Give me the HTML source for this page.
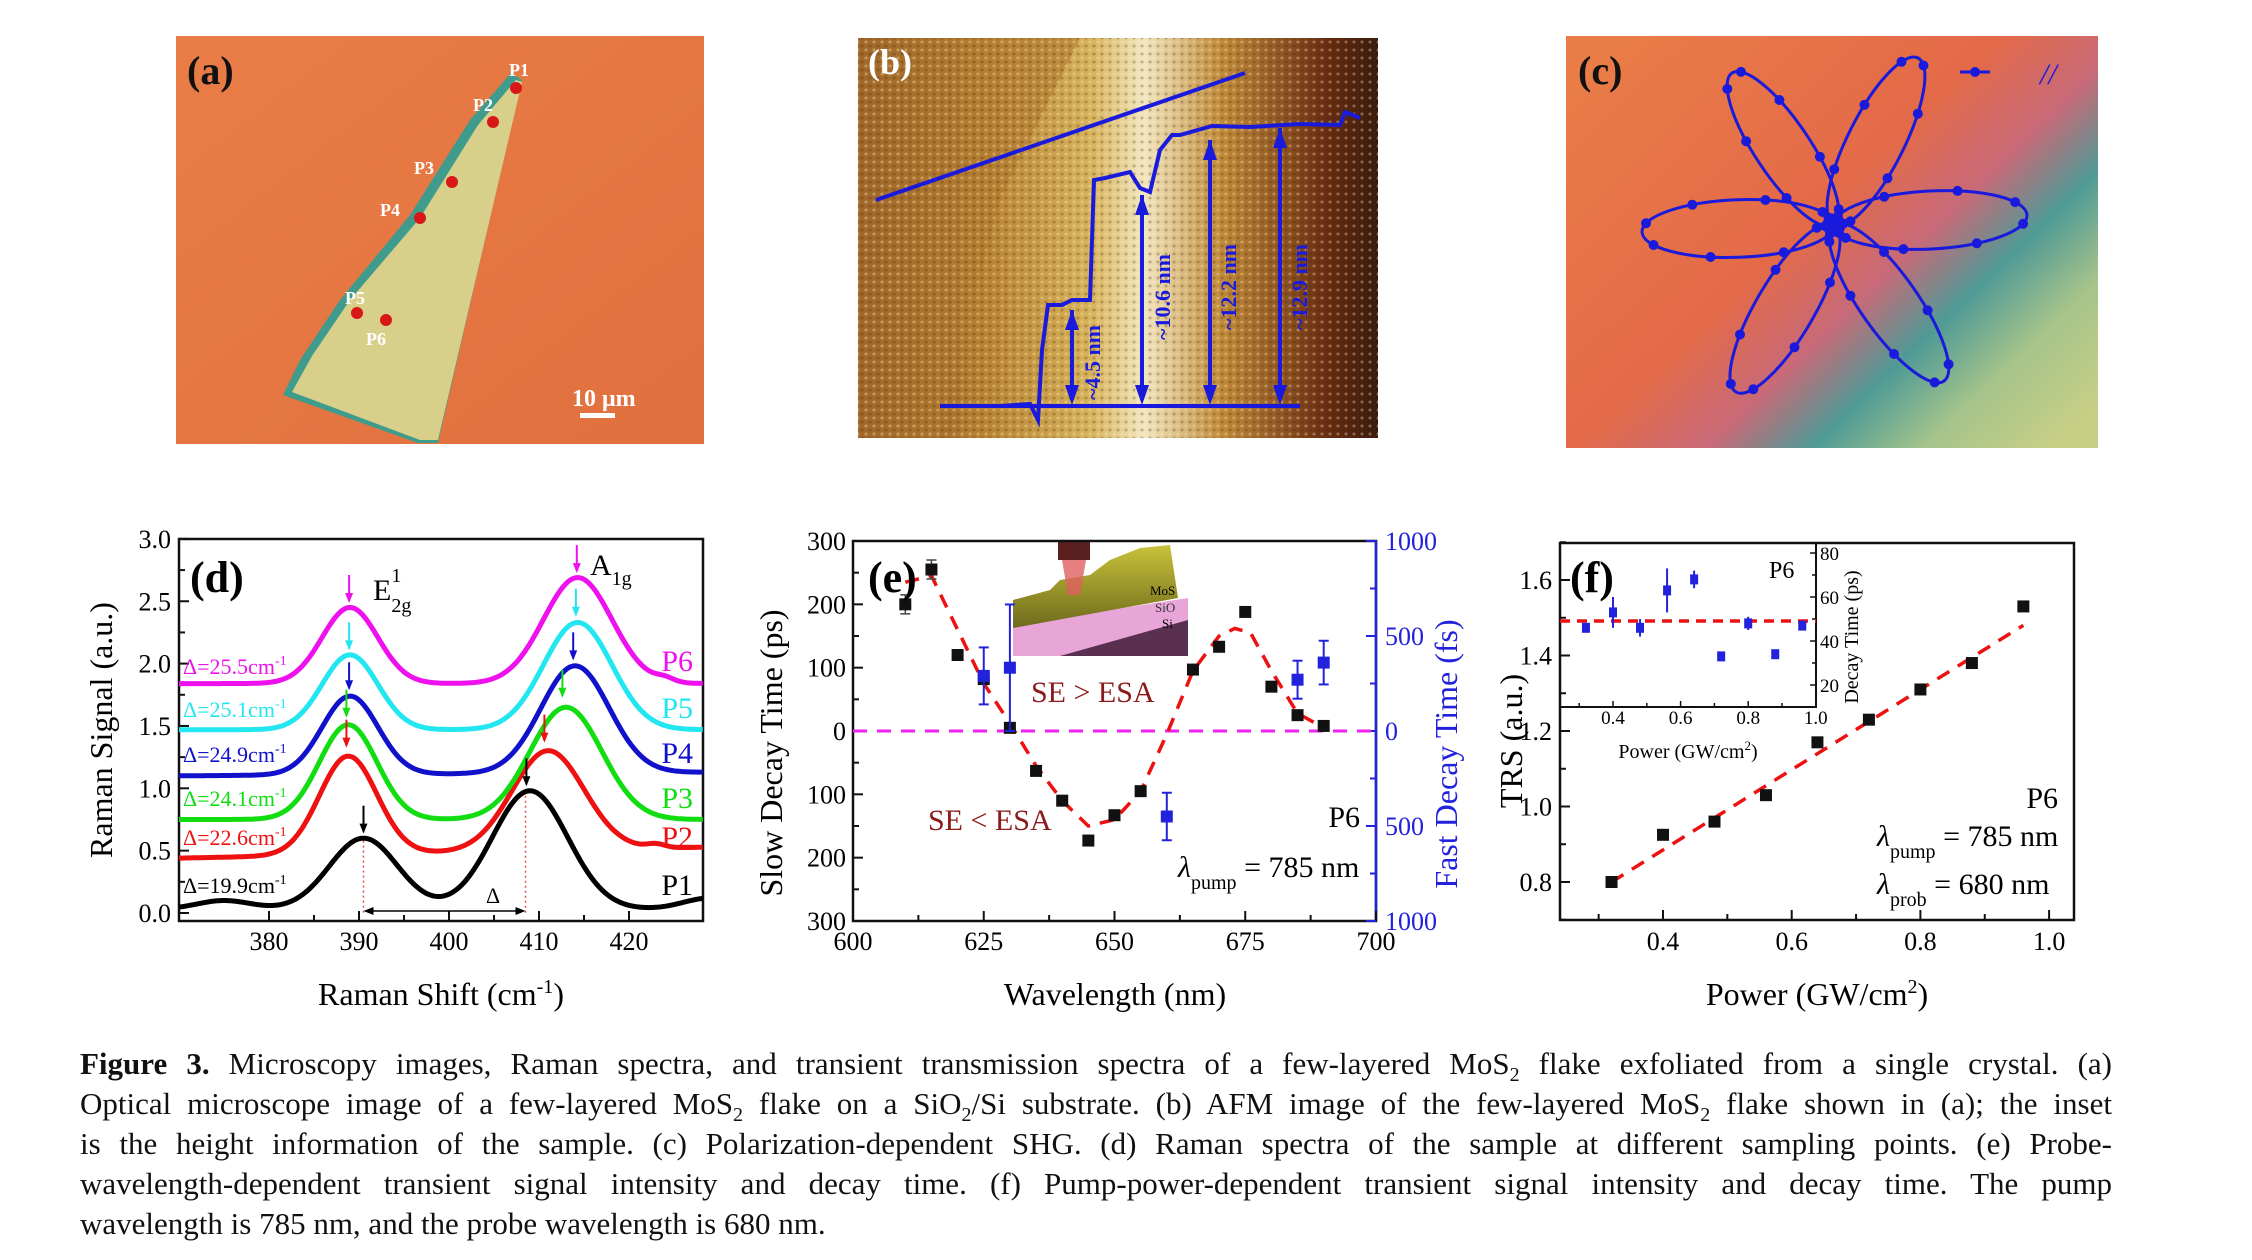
<!DOCTYPE html>
<html><head><meta charset="utf-8">
<style>
html,body{margin:0;padding:0;background:#fff;}
body{width:2252px;height:1260px;position:relative;overflow:hidden;}
svg{position:absolute;left:0;top:0;}
text{font-family:"Liberation Serif",serif;}
#cap{position:absolute;left:80px;top:1044px;width:2032px;font-family:"Liberation Serif",serif;font-size:31px;line-height:40px;color:#111;}
#cap div{text-align:justify;text-align-last:justify;white-space:nowrap;height:40px;}
#cap div.l{text-align-last:left;}
sub{font-size:20px;line-height:0;}
</style></head><body>
<svg id="s" width="2252" height="1260" xmlns="http://www.w3.org/2000/svg">
<defs>
<linearGradient id="ga" x1="0" y1="0" x2="1" y2="1"><stop offset="0" stop-color="#ea7d47"/><stop offset="1" stop-color="#e0703e"/></linearGradient>
<linearGradient id="gb" x1="0" y1="0" x2="1" y2="0"><stop offset="0" stop-color="#8a4a22"/><stop offset=".25" stop-color="#b98433"/><stop offset=".45" stop-color="#d8b45e"/><stop offset=".55" stop-color="#f2e6c0"/><stop offset=".7" stop-color="#c08a3a"/><stop offset=".9" stop-color="#6a2d12"/><stop offset="1" stop-color="#3a1a0c"/></linearGradient>
<linearGradient id="gc" x1="0" y1="0.1" x2="1" y2="0.9"><stop offset="0" stop-color="#ea7d47"/><stop offset=".45" stop-color="#e36a48"/><stop offset=".6" stop-color="#c86a78"/><stop offset=".72" stop-color="#4f9a96"/><stop offset=".85" stop-color="#a6c48a"/><stop offset="1" stop-color="#c8cf86"/></linearGradient>
<linearGradient id="gi" x1="0" y1="0" x2="0" y2="1"><stop offset="0" stop-color="#c9c23a"/><stop offset="1" stop-color="#6e6a1c"/></linearGradient>
<pattern id="tex" width="8" height="8" patternUnits="userSpaceOnUse"><rect width="8" height="8" fill="none"/><circle cx="2" cy="2" r="1.5" fill="#fff3c0" opacity=".35"/><circle cx="6" cy="6" r="1.5" fill="#4a2a08" opacity=".3"/></pattern>
</defs>
<!-- (a) -->
<rect x="176" y="36" width="528" height="408" fill="url(#ga)"/>
<polygon points="511,73 522,80 438,443 418,443 283,395 300,360 340,300 410,215 470,120" fill="#3f9c8c"/>
<polygon points="516,80 522,82 438,440 420,440 292,392 312,356 350,300 420,218 478,125" fill="#d7cf8a"/>
<text x="187" y="84" font-size="40" font-weight="bold" fill="#111">(a)</text>
<g fill="#d81818"><circle cx="516" cy="88" r="6"/><circle cx="493" cy="122" r="6"/><circle cx="452" cy="182" r="6"/><circle cx="420" cy="218" r="6"/><circle cx="357" cy="313" r="6"/><circle cx="386" cy="320" r="6"/></g>
<g fill="#fff" font-size="18" font-weight="bold"><text x="509" y="76">P1</text><text x="473" y="111">P2</text><text x="414" y="174">P3</text><text x="380" y="216">P4</text><text x="345" y="304">P5</text><text x="366" y="345">P6</text></g>
<text x="572" y="406" font-size="24" font-weight="bold" fill="#fff">10 μm</text>
<rect x="580" y="413" width="35" height="5" fill="#fff"/>
<!-- (b) -->
<rect x="858" y="38" width="520" height="400" fill="url(#gb)"/>
<polygon points="858,38 1080,38 1000,200 960,350 940,438 858,438" fill="#b07a30" opacity=".6"/>
<rect x="858" y="38" width="520" height="400" fill="url(#tex)"/>
<text x="868" y="74" font-size="36" font-weight="bold" fill="#fff">(b)</text>
<g stroke="#1a1adc" stroke-width="4" fill="none">
<line x1="876" y1="200" x2="1245" y2="73"/>
<polyline points="940,406 1000,406 1030,404 1038,420 1042,350 1048,305 1062,305 1072,300 1090,300 1094,180 1105,178 1130,172 1140,188 1150,192 1160,150 1172,135 1180,135 1212,126 1250,127 1300,124 1340,125 1345,112 1360,118"/>
<line x1="942" y1="406" x2="1300" y2="406"/>
</g>
<g stroke="#1a1adc" stroke-width="4"><line x1="1072" y1="310" x2="1072" y2="400"/><line x1="1142" y1="195" x2="1142" y2="400"/><line x1="1210" y1="140" x2="1210" y2="400"/><line x1="1280" y1="128" x2="1280" y2="400"/></g>
<g fill="#1a1adc"><polygon points="1065,330 1079,330 1072,310"/><polygon points="1065,385 1079,385 1072,405"/><polygon points="1135,215 1149,215 1142,195"/><polygon points="1135,385 1149,385 1142,405"/><polygon points="1203,160 1217,160 1210,140"/><polygon points="1203,385 1217,385 1210,405"/><polygon points="1273,148 1287,148 1280,128"/><polygon points="1273,385 1287,385 1280,405"/></g>
<g fill="#1a1adc" font-family="Liberation Sans" font-size="22" font-weight="bold"><text transform="translate(1100,400) rotate(-90)">~4.5 nm</text><text transform="translate(1170,340) rotate(-90)">~10.6 nm</text><text transform="translate(1236,330) rotate(-90)">~12.2 nm</text><text transform="translate(1307,330) rotate(-90)">~12.9 nm</text></g>
<!-- (c) -->
<rect x="1566" y="36" width="532" height="412" fill="url(#gc)"/>
<text x="1578" y="84" font-size="40" font-weight="bold" fill="#111">(c)</text>
<g id="flower" stroke="#1a1adc" stroke-width="3" fill="none"></g>
<line x1="1960" y1="72" x2="1990" y2="72" stroke="#1a1adc" stroke-width="3"/><circle cx="1975" cy="72" r="5" fill="#1a1adc"/>
<text x="2040" y="84" font-size="30" font-style="italic" fill="#1a1adc">//</text>
<g id="plots"></g>
</svg>
<div id="cap">
<div><b>Figure 3.</b> Microscopy images, Raman spectra, and transient transmission spectra of a few-layered MoS<sub>2</sub> flake exfoliated from a single crystal. (a)</div>
<div>Optical microscope image of a few-layered MoS<sub>2</sub> flake on a SiO<sub>2</sub>/Si substrate. (b) AFM image of the few-layered MoS<sub>2</sub> flake shown in (a); the inset</div>
<div>is the height information of the sample. (c) Polarization-dependent SHG. (d) Raman spectra of the sample at different sampling points. (e) Probe-</div>
<div>wavelength-dependent transient signal intensity and decay time. (f) Pump-power-dependent transient signal intensity and decay time. The pump</div>
<div class="l">wavelength is 785 nm, and the probe wavelength is 680 nm.</div>
</div>
<script>
var h="";
function T(x,y,s,sz,o){o=o||{};return '<text x="'+x+'" y="'+y+'" font-size="'+sz+'"'+(o.a?' text-anchor="'+o.a+'"':'')+(o.f?' fill="'+o.f+'"':'')+(o.b?' font-weight="bold"':'')+(o.t?' transform="'+o.t+'"':'')+(o.i?' font-style="italic"':'')+'>'+s+'</text>';}
(function(){var cx=1834,cy=225,tips=[[1732,73],[1918,58],[2027,215],[1642,232],[1736,392],[1944,381]],f="";
tips.forEach(function(t){var dx=t[0]-cx,dy=t[1]-cy,L=Math.hypot(dx,dy),ang=Math.atan2(dy,dx)*180/Math.PI;
f+='<ellipse cx="'+(cx+dx/2)+'" cy="'+(cy+dy/2)+'" rx="'+(L/2)+'" ry="'+(L*0.15)+'" transform="rotate('+ang+' '+(cx+dx/2)+' '+(cy+dy/2)+')"/>';
for(var k=0;k<8;k++){var th=k/8*2*Math.PI+0.3;var ex=L/2*Math.cos(th),ey=L*0.15*Math.sin(th);var a=ang*Math.PI/180;
f+='<circle cx="'+(cx+dx/2+ex*Math.cos(a)-ey*Math.sin(a)).toFixed(1)+'" cy="'+(cy+dy/2+ex*Math.sin(a)+ey*Math.cos(a)).toFixed(1)+'" r="5" fill="#1a1adc" stroke="none"/>';}});
f+='<circle cx="'+cx+'" cy="'+cy+'" r="10" fill="#1a1adc"/>';
document.getElementById("flower").innerHTML=f;})();
function box(x0,y0,x1,y1){return '<rect x="'+x0+'" y="'+y0+'" width="'+(x1-x0)+'" height="'+(y1-y0)+'" fill="none" stroke="#111" stroke-width="2.5"/>';}
var dx0=179,dx1=703,dy0=539,dy1=921;
function DX(v){return 269+(v-380)*9;} function DY(v){return 913-v*124.7;}
h+=box(dx0,dy0,dx1,dy1);
for(var v=380;v<=420;v+=5){var big=v%10==0;h+='<line x1="'+DX(v)+'" y1="'+dy1+'" x2="'+DX(v)+'" y2="'+(dy1-(big?10:6))+'" stroke="#111" stroke-width="2"/>';if(big)h+=T(DX(v),950,v,26,{a:"middle"});}
for(var v=0;v<=3.001;v+=0.25){var big=Math.abs(v*2-Math.round(v*2))<1e-6;h+='<line x1="'+dx0+'" y1="'+DY(v)+'" x2="'+(dx0+(big?10:6))+'" y2="'+DY(v)+'" stroke="#111" stroke-width="2"/>';if(big)h+=T(171,DY(v)+9,v.toFixed(1),26,{a:"end"});}
function G(x,m,s){return Math.exp(-(x-m)*(x-m)/(2*s*s));}
var spec=[
["#000",function(x){return 0.03+0.07*G(x,375,3)+0.57*G(x,390.5,3.8)+0.95*G(x,409,4.2)+0.09*G(x,429,3);}],
["#ee1111",function(x){return 0.44+0.0015*(x-370)+0.79*G(x,388.8,3.2)+0.8*G(x,411,4)+0.03*G(x,423,1);}],
["#11dd11",function(x){return 0.75+0.76*G(x,388.8,3.2)+0.9*G(x,413,4);}],
["#1111cc",function(x){return 1.1+0.0005*(x-370)+0.63*G(x,389,3.1)+0.86*G(x,414,3.8);}],
["#22e6f0",function(x){return 1.47+0.6*G(x,389,3.1)+0.86*G(x,414.3,3.8);}],
["#ee11ee",function(x){return 1.84+0.61*G(x,389,3.1)+0.85*G(x,414.3,3.8)+0.03*G(x,424,1);}]];
h+='<line x1="'+DX(390.5)+'" y1="'+DY(0.58)+'" x2="'+DX(390.5)+'" y2="'+DY(-0.02)+'" stroke="#e05050" stroke-dasharray="2,3" stroke-width="1.5"/>';
h+='<line x1="'+DX(408.5)+'" y1="'+DY(0.98)+'" x2="'+DX(408.5)+'" y2="'+DY(-0.02)+'" stroke="#e05050" stroke-dasharray="2,3" stroke-width="1.5"/>';
spec.forEach(function(s){var p="";for(var x=370;x<=428.2;x+=0.2){p+=(p?"L":"M")+DX(x).toFixed(1)+","+DY(s[1](x)).toFixed(1);}h+='<path d="'+p+'" fill="none" stroke="'+s[0]+'" stroke-width="5"/>';});
var arr=[[390.5,0.62,"#000"],[408.6,1.0,"#000"],[388.6,1.31,"#ee1111"],[410.6,1.35,"#ee1111"],[388.6,1.55,"#11dd11"],[412.6,1.71,"#11dd11"],[388.9,1.77,"#1111cc"],[413.8,2.01,"#1111cc"],[388.9,2.09,"#22e6f0"],[414.1,2.36,"#22e6f0"],[388.9,2.47,"#ee11ee"],[414.2,2.71,"#ee11ee"]];
arr.forEach(function(a){var x=DX(a[0]),y=DY(a[1]);h+='<line x1="'+x+'" y1="'+(y-30)+'" x2="'+x+'" y2="'+(y-4)+'" stroke="'+a[2]+'" stroke-width="2"/><polygon points="'+(x-4)+','+(y-12)+' '+(x+4)+','+(y-12)+' '+x+','+(y-2)+'" fill="'+a[2]+'"/>';});
h+='<line x1="'+(DX(390.5)+4)+'" y1="911" x2="'+(DX(408.5)-4)+'" y2="911" stroke="#000" stroke-width="1.5"/><polygon points="'+DX(390.5)+',911 '+(DX(390.5)+10)+',907 '+(DX(390.5)+10)+',915" fill="#000"/><polygon points="'+DX(408.5)+',911 '+(DX(408.5)-10)+',907 '+(DX(408.5)-10)+',915" fill="#000"/>';
h+=T(486,903,"Δ",22,{});
var dl=[["25.5","#ee11ee"],["25.1","#22e6f0"],["24.9","#1111cc"],["24.1","#11dd11"],["22.6","#ee1111"],["19.9","#000"]];
var ys=[674,717,762,806,845,893];
dl.forEach(function(d,i){h+='<text x="183" y="'+ys[i]+'" font-size="22" fill="'+d[1]+'">Δ='+d[0]+'cm<tspan dy="-9" font-size="14">-1</tspan></text>';});
var pl=[["P6","#ee11ee"],["P5","#22e6f0"],["P4","#1111cc"],["P3","#11dd11"],["P2","#ee1111"],["P1","#000"]];
var pys=[671,718,763,808,847,895];
pl.forEach(function(d,i){h+=T(693,pys[i],d[0],30,{a:"end",f:d[1]});});
h+=T(190,592,"(d)",44,{b:1});
h+='<text x="373" y="600" font-size="30">E<tspan dy="12" font-size="20">2g</tspan><tspan dx="-20" dy="-30" font-size="20">1</tspan></text>';
h+='<text x="590" y="575" font-size="30">A<tspan dy="10" font-size="20">1g</tspan></text>';
h+='<text x="0" y="0" font-size="32" text-anchor="middle" transform="translate(112,730) rotate(-90)">Raman Signal (a.u.)</text>';
h+='<text x="441" y="1005" font-size="32" text-anchor="middle">Raman Shift (cm<tspan dy="-12" font-size="20">-1</tspan><tspan dy="12">)</tspan></text>';
var ex0=853,ex1=1376,ey0=541,ey1=921;
function EX(v){return ex0+(v-600)*5.23;} function EY(v){return 731-v*0.6333;} function EF(v){return 731-v*0.19;}
h+='<rect x="1013" y="542" width="175" height="114" fill="#fff"/><polygon points="1013,625 1188,598 1188,656 1013,656" fill="#e8a5d8"/><polygon points="1060,656 1188,620 1188,656" fill="#5a3050"/>';
h+='<polygon points="1013,600 1050,590 1060,580 1090,575 1110,560 1140,548 1170,545 1178,598 1013,628" fill="url(#gi)"/>';
h+='<rect x="1058" y="542" width="32" height="18" fill="#5a2020"/><polygon points="1062,560 1086,560 1080,595 1068,595" fill="#e06060" opacity=".8"/>';
h+=T(1150,595,"MoS",13,{})+T(1155,612,"SiO",13,{f:"#333"})+T(1162,628,"Si",13,{});
h+=box(ex0,ey0,ex1,ey1);
h+='<line x1="'+ex1+'" y1="'+ey0+'" x2="'+ex1+'" y2="'+ey1+'" stroke="#2222dd" stroke-width="2.5"/>';
for(var v=600;v<=700;v+=12.5){var big=(v%25==0);h+='<line x1="'+EX(v)+'" y1="'+ey1+'" x2="'+EX(v)+'" y2="'+(ey1-(big?10:6))+'" stroke="#111" stroke-width="2"/>';if(big)h+=T(EX(v),950,v,26,{a:"middle"});}
for(var v=-300;v<=300;v+=50){var big=(v%100==0);h+='<line x1="'+ex0+'" y1="'+EY(v)+'" x2="'+(ex0+(big?10:6))+'" y2="'+EY(v)+'" stroke="#111" stroke-width="2"/>';if(big)h+=T(846,EY(v)+9,Math.abs(v),26,{a:"end"});}
for(var v=-1000;v<=1000;v+=250){var big=(v%500==0);h+='<line x1="'+ex1+'" y1="'+EF(v)+'" x2="'+(ex1-(big?10:6))+'" y2="'+EF(v)+'" stroke="#2222dd" stroke-width="2"/>';if(big)h+=T(1385,EF(v)+9,Math.abs(v),26,{f:"#2222dd"});}
h+='<line x1="'+ex0+'" y1="731" x2="'+ex1+'" y2="731" stroke="#ee22ee" stroke-width="3" stroke-dasharray="14,10"/>';
var rc=[[610,235],[615,245],[620,160],[625,75],[630,12],[635,-55],[640,-110],[645,-150],[650,-140],[655,-95],[660,-5],[665,95],[670,150],[673,162],[676,155],[680,95],[685,28],[690,5]];
var p="";rc.forEach(function(c){p+=(p?"L":"M")+EX(c[0]).toFixed(1)+","+EY(c[1]).toFixed(1);});
h+='<path d="'+p+'" fill="none" stroke="#ee1111" stroke-width="3.5" stroke-dasharray="14,10"/>';
var bk=[[610,200,15],[615,255,15],[620,120],[625,82],[630,5],[635,-63],[640,-110],[645,-173,8],[650,-133],[655,-95],[665,97],[670,133],[675,188],[680,70],[685,25],[690,8]];
bk.forEach(function(b){var x=EX(b[0]),y=EY(b[1]);if(b[2]){h+='<line x1="'+x+'" y1="'+EY(b[1]+b[2])+'" x2="'+x+'" y2="'+EY(b[1]-b[2])+'" stroke="#444" stroke-width="1.5"/><line x1="'+(x-5)+'" y1="'+EY(b[1]+b[2])+'" x2="'+(x+5)+'" y2="'+EY(b[1]+b[2])+'" stroke="#444" stroke-width="1.5"/><line x1="'+(x-5)+'" y1="'+EY(b[1]-b[2])+'" x2="'+(x+5)+'" y2="'+EY(b[1]-b[2])+'" stroke="#444" stroke-width="1.5"/>';}h+='<rect x="'+(x-6)+'" y="'+(y-6)+'" width="12" height="12" fill="#111"/>';});
var bl=[[625,290,150],[630,333,333],[660,-450,125],[685,270,100],[690,360,115]];
bl.forEach(function(b){var x=EX(b[0]),y=EF(b[1]),t=EF(b[1]+b[2]),u=EF(b[1]-b[2]);h+='<line x1="'+x+'" y1="'+t+'" x2="'+x+'" y2="'+u+'" stroke="#2222dd" stroke-width="2"/><line x1="'+(x-5)+'" y1="'+t+'" x2="'+(x+5)+'" y2="'+t+'" stroke="#2222dd" stroke-width="2"/><line x1="'+(x-5)+'" y1="'+u+'" x2="'+(x+5)+'" y2="'+u+'" stroke="#2222dd" stroke-width="2"/><rect x="'+(x-6)+'" y="'+(y-6)+'" width="12" height="12" fill="#2222dd"/>';});
h+=T(1031,702,"SE &gt; ESA",30,{f:"#8b1a1a"})+T(928,830,"SE &lt; ESA",30,{f:"#8b1a1a"});
h+=T(1360,827,"P6",30,{a:"end"});
h+='<text x="1178" y="877" font-size="30"><tspan font-style="italic">λ</tspan><tspan dy="12" font-size="20">pump</tspan><tspan dy="-12"> = 785 nm</tspan></text>';
h+=T(868,592,"(e)",44,{b:1});
h+='<text font-size="32" text-anchor="middle" transform="translate(782,753) rotate(-90)">Slow Decay Time (ps)</text>';
h+='<text font-size="32" text-anchor="middle" fill="#2222dd" transform="translate(1457,754) rotate(-90)">Fast Decay Time (fs)</text>';
h+=T(1115,1005,"Wavelength (nm)",32,{a:"middle"});
var fx0=1560,fx1=2074,fy0=543,fy1=920;
function FX(v){return 1663+(v-0.4)*643.5;} function FY(v){return 882-(v-0.8)*377.5;}
h+=box(fx0,fy0,fx1,fy1);
for(var v=0.3;v<=1.001;v+=0.1){var big=Math.abs(v*5-Math.round(v*5))<1e-6;h+='<line x1="'+FX(v)+'" y1="'+fy1+'" x2="'+FX(v)+'" y2="'+(fy1-(big?10:6))+'" stroke="#111" stroke-width="2"/>';if(big)h+=T(FX(v),950,v.toFixed(1),26,{a:"middle"});}
for(var v=0.7;v<=1.701;v+=0.1){var big=Math.abs(v*5-Math.round(v*5))<1e-6;h+='<line x1="'+fx0+'" y1="'+FY(v)+'" x2="'+(fx0+(big?10:6))+'" y2="'+FY(v)+'" stroke="#111" stroke-width="2"/>';if(big)h+=T(1552,FY(v)+9,v.toFixed(1),26,{a:"end"});}
h+='<line x1="'+FX(0.32)+'" y1="'+FY(0.80)+'" x2="'+FX(0.96)+'" y2="'+FY(1.48)+'" stroke="#ee1111" stroke-width="3.5" stroke-dasharray="14,10"/>';
[[0.32,0.80],[0.40,0.925],[0.48,0.96],[0.56,1.03],[0.64,1.17],[0.72,1.23],[0.80,1.31],[0.88,1.38],[0.96,1.53]].forEach(function(d){h+='<rect x="'+(FX(d[0])-6)+'" y="'+(FY(d[1])-6)+'" width="12" height="12" fill="#111"/>';});
var ix1=1816,iy1=707;function IX(v){return 1613+(v-0.4)*338;} function IY(v){return 553+(80-v)*2.2;}
h+='<polyline points="'+fx0+','+iy1+' '+ix1+','+iy1+' '+ix1+','+fy0+'" fill="none" stroke="#111" stroke-width="2"/>';
for(var v=0.3;v<=1.001;v+=0.1){var big=Math.abs(v*5-Math.round(v*5))<1e-6;h+='<line x1="'+IX(v)+'" y1="'+iy1+'" x2="'+IX(v)+'" y2="'+(iy1-(big?6:4))+'" stroke="#111" stroke-width="1.5"/>';if(big)h+=T(IX(v),724,v.toFixed(1),19,{a:"middle"});}
for(var v=20;v<=80;v+=10){var big=v%20==0;h+='<line x1="'+ix1+'" y1="'+IY(v)+'" x2="'+(ix1-(big?6:4))+'" y2="'+IY(v)+'" stroke="#111" stroke-width="1.5"/>';if(big)h+=T(1820,IY(v)+7,v,19,{});}
h+='<line x1="'+fx0+'" y1="621" x2="'+ix1+'" y2="621" stroke="#ee1111" stroke-width="3.5" stroke-dasharray="10,7"/>';
[[0.32,46,0],[0.40,53,7],[0.48,46,4],[0.56,63,10],[0.64,68,4],[0.72,33,0],[0.80,48,3],[0.88,34,0],[0.96,47,0]].forEach(function(d){var x=IX(d[0]),y=IY(d[1]);if(d[2])h+='<line x1="'+x+'" y1="'+IY(d[1]+d[2])+'" x2="'+x+'" y2="'+IY(d[1]-d[2])+'" stroke="#2222dd" stroke-width="2"/>';h+='<rect x="'+(x-4)+'" y="'+(y-5)+'" width="8" height="10" fill="#2222dd"/>';});
h+=T(1570,592,"(f)",44,{b:1})+T(1769,578,"P6",24,{});
h+='<text font-size="20" text-anchor="middle" transform="translate(1858,637) rotate(-90)">Decay Time (ps)</text>';
h+='<text x="1688" y="758" font-size="20" text-anchor="middle">Power (GW/cm<tspan dy="-8" font-size="13">2</tspan><tspan dy="8">)</tspan></text>';
h+=T(2058,808,"P6",30,{a:"end"});
h+='<text x="1877" y="846" font-size="30"><tspan font-style="italic">λ</tspan><tspan dy="12" font-size="20">pump</tspan><tspan dy="-12"> = 785 nm</tspan></text>';
h+='<text x="1877" y="894" font-size="30"><tspan font-style="italic">λ</tspan><tspan dy="12" font-size="20">prob</tspan><tspan dy="-12"> = 680 nm</tspan></text>';
h+='<text font-size="32" text-anchor="middle" transform="translate(1522,741) rotate(-90)">TRS (a.u.)</text>';
h+='<text x="1817" y="1005" font-size="32" text-anchor="middle">Power (GW/cm<tspan dy="-12" font-size="20">2</tspan><tspan dy="12">)</tspan></text>';
document.getElementById("plots").innerHTML=h;
</script>
</body></html>
